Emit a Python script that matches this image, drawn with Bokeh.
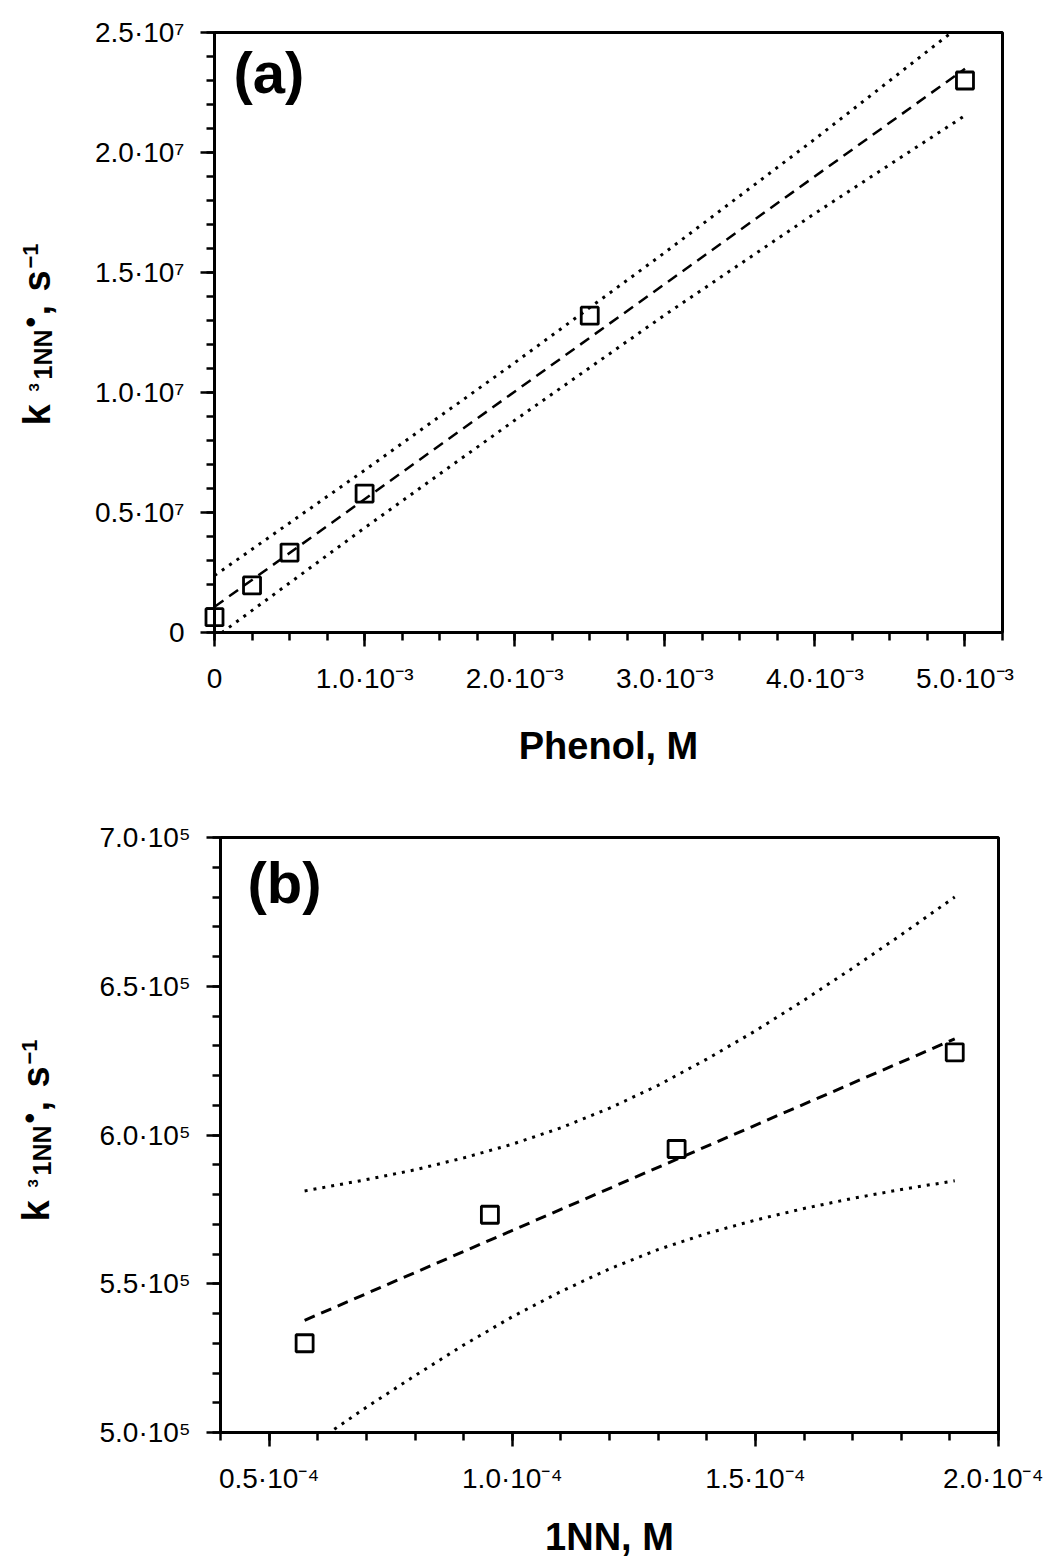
import math
from bokeh.plotting import figure
from bokeh.models import FixedTicker, Label, Range1d
from bokeh.layouts import column, row
from bokeh.embed import file_html
from bokeh.resources import INLINE

# ---------------- data: panel (a) ----------------
phenol_M = [0.0, 0.25e-3, 0.5e-3, 1.0e-3, 2.5e-3, 5.0e-3]
k_a = [0.64e6, 1.96e6, 3.33e6, 5.79e6, 13.2e6, 23.0e6]
fit_a_x = [0.0, 5.0e-3]
fit_a_y = [1.07e6, 23.49e6]
band_a_x = [0.0, 1.0e-3, 2.0e-3, 3.0e-3, 4.0e-3, 5.0e-3]
band_a_upper = [2.37e6, 6.76e6, 11.24e6, 15.83e6, 20.56e6, 25.44e6]
band_a_lower = [-0.23e6, 4.36e6, 8.84e6, 13.23e6, 17.46e6, 21.54e6]

a_xticks = [0.0, 1.0e-3, 2.0e-3, 3.0e-3, 4.0e-3, 5.0e-3]
a_xlabels = ["0", "1.0·10⁻³", "2.0·10⁻³", "3.0·10⁻³", "4.0·10⁻³", "5.0·10⁻³"]
a_yticks = [0.0, 5.0e6, 1.0e7, 1.5e7, 2.0e7, 2.5e7]
a_ylabels = ["0", "0.5·10⁷", "1.0·10⁷", "1.5·10⁷", "2.0·10⁷", "2.5·10⁷"]

# ---------------- data: panel (b) ----------------
nn_M = [0.573e-4, 0.954e-4, 1.338e-4, 1.910e-4]
k_b = [5.30e5, 5.732e5, 5.953e5, 6.278e5]
fit_b_x = [0.573e-4, 1.910e-4]
fit_b_y = [5.377e5, 6.323e5]
band_b_x = [0.573e-4, 0.7e-4, 0.8e-4, 0.9e-4, 1.0e-4, 1.1e-4, 1.2e-4,
            1.3e-4, 1.4e-4, 1.5e-4, 1.6e-4, 1.7e-4, 1.8e-4, 1.91e-4]
band_b_upper = [5.812e5, 5.850e5, 5.883e5, 5.923e5, 5.969e5, 6.024e5, 6.090e5,
                6.167e5, 6.255e5, 6.350e5, 6.453e5, 6.561e5, 6.673e5, 6.800e5]
band_b_lower = [4.942e5, 5.085e5, 5.191e5, 5.294e5, 5.389e5, 5.474e5, 5.550e5,
                5.615e5, 5.669e5, 5.714e5, 5.753e5, 5.787e5, 5.817e5, 5.846e5]

b_xticks = [0.5e-4, 1.0e-4, 1.5e-4, 2.0e-4]
b_xlabels = ["0.5·10⁻⁴", "1.0·10⁻⁴", "1.5·10⁻⁴", "2.0·10⁻⁴"]
b_yticks = [5.0e5, 5.5e5, 6.0e5, 6.5e5, 7.0e5]
b_ylabels = ["5.0·10⁵", "5.5·10⁵", "6.0·10⁵", "6.5·10⁵", "7.0·10⁵"]

FONT = "Liberation Sans"
SIDE_W = 60
H_A = 777   # 32 top + 600 frame + 145 bottom
TOP_B = 837 - H_A
H_B = TOP_B + 595 + 122


def style_axes(p, xticks, xlabels, xminor, yticks, ylabels, yminor, xstand):
    p.xaxis.ticker = FixedTicker(ticks=xticks, minor_ticks=xminor)
    p.yaxis.ticker = FixedTicker(ticks=yticks, minor_ticks=yminor)
    p.xaxis.major_label_overrides = {t: l for t, l in zip(xticks, xlabels)}
    p.yaxis.major_label_overrides = {t: l for t, l in zip(yticks, ylabels)}
    p.grid.visible = False
    p.outline_line_color = "black"
    p.outline_line_width = 3
    p.outline_line_alpha = 1.0
    for ax in (p.xaxis[0], p.yaxis[0]):
        ax.axis_line_width = 3
        ax.axis_line_color = "black"
        ax.major_tick_line_width = 2.5
        ax.minor_tick_line_width = 2.5
        ax.major_tick_in = 0
        ax.major_tick_out = 14
        ax.minor_tick_in = 0
        ax.minor_tick_out = 8
        ax.major_label_text_font = FONT
        ax.major_label_text_font_size = "28px"
        ax.major_label_text_color = "black"
    p.xaxis.major_label_standoff = xstand
    p.yaxis.major_label_standoff = 16
    p.yaxis.major_label_orientation = "horizontal"
    p.xaxis.axis_label_text_font = FONT
    p.xaxis.axis_label_text_font_style = "bold"
    p.xaxis.axis_label_text_font_size = "38px"
    p.xaxis.axis_label_text_color = "black"


def side_label(height, frame_h, xb, ystart):
    # narrow figure holding the rotated label  k ³1NN•, s⁻¹
    # (its frame lines up with the neighbouring plot frame; ystart is the
    #  start of the text, measured upwards from that frame's bottom edge)
    s = figure(width=SIDE_W, height=height, x_range=Range1d(0, SIDE_W),
               y_range=Range1d(0, frame_h), output_backend="svg",
               toolbar_location=None, min_border=0)
    s.axis.visible = False
    s.grid.visible = False
    s.outline_line_color = None
    # (text, font px, offset along text, raise)
    parts = [("k", 38, 0, 0), ("3", 15, 34, 11), ("1NN", 25, 46, -2),
             ("•", 30, 98, 9), (",", 38, 110, 0), ("s", 38, 134, 0),
             ("−1", 22, 157, 12)]
    for txt, size, t, r in parts:
        shift = 0.33 * size   # baseline compensation for rotated text
        s.add_layout(Label(x=xb - r - shift, y=ystart + t,
                           x_units="screen", y_units="screen",
                           text=txt, angle=math.pi / 2,
                           text_font=FONT, text_font_style="bold",
                           text_font_size=f"{size}px", text_align="left",
                           text_baseline="alphabetic", text_color="black"))
    return s


# ---------------- panel (a) ----------------
pa = figure(frame_width=788, frame_height=600,
            x_range=Range1d(0, 5.25e-3), y_range=Range1d(0, 2.5e7),
            output_backend="svg", toolbar_location=None,
            min_border_left=154, min_border_right=45,
            min_border_top=32, min_border_bottom=H_A - 632)
style_axes(pa, a_xticks, a_xlabels, [i * 0.25e-3 for i in range(22)],
           a_yticks, a_ylabels, [i * 1.0e6 for i in range(26)], 16)
pa.xaxis.axis_label = "Phenol, M"
pa.xaxis.axis_label_standoff = 28

pa.line(band_a_x, band_a_upper, line_color="black", line_width=3, line_dash="3 6")
pa.line(band_a_x, band_a_lower, line_color="black", line_width=3, line_dash="3 6")
pa.line(fit_a_x, fit_a_y, line_color="black", line_width=2.5, line_dash="11 7")
sq_a = pa.scatter(phenol_M, k_a, marker="square", size=17, fill_color=None,
                  line_color="black", line_width=2.8)
sq_a.level = "overlay"

pa.add_layout(Label(x=19, y=560, x_units="screen", y_units="screen", text="(a)",
                    text_font=FONT, text_font_style="bold", text_font_size="58px",
                    text_baseline="alphabetic", text_color="black"))

# ---------------- panel (b) ----------------
pb = figure(frame_width=778, frame_height=595,
            x_range=Range1d(0.4e-4, 2.0e-4), y_range=Range1d(5.0e5, 7.0e5),
            output_backend="svg", toolbar_location=None,
            min_border_left=160, min_border_right=45,
            min_border_top=TOP_B, min_border_bottom=H_B - TOP_B - 595)
style_axes(pb, b_xticks, b_xlabels, [0.4e-4 + i * 0.1e-4 for i in range(17)],
           b_yticks, b_ylabels, [5.0e5 + i * 0.1e5 for i in range(21)], 16)
pb.xaxis.axis_label = "1NN, M"
pb.xaxis.axis_label_standoff = 19

pb.line(band_b_x, band_b_upper, line_color="black", line_width=3, line_dash="3 6")
pb.line(band_b_x, band_b_lower, line_color="black", line_width=3, line_dash="3 6")
pb.line(fit_b_x, fit_b_y, line_color="black", line_width=3, line_dash="11 7")
sq_b = pb.scatter(nn_M, k_b, marker="square", size=17, fill_color=None,
                  line_color="black", line_width=2.8)
sq_b.level = "overlay"

pb.add_layout(Label(x=27, y=550, x_units="screen", y_units="screen", text="(b)",
                    text_font=FONT, text_font_style="bold", text_font_size="58px",
                    text_baseline="alphabetic", text_color="black"))

side_a = side_label(H_A, 600, 49, 207)
side_b = side_label(H_B, 595, 48, 205)

layout = column(row(side_a, pa), row(side_b, pb))
open("out.html", "w").write(file_html(layout, INLINE))
